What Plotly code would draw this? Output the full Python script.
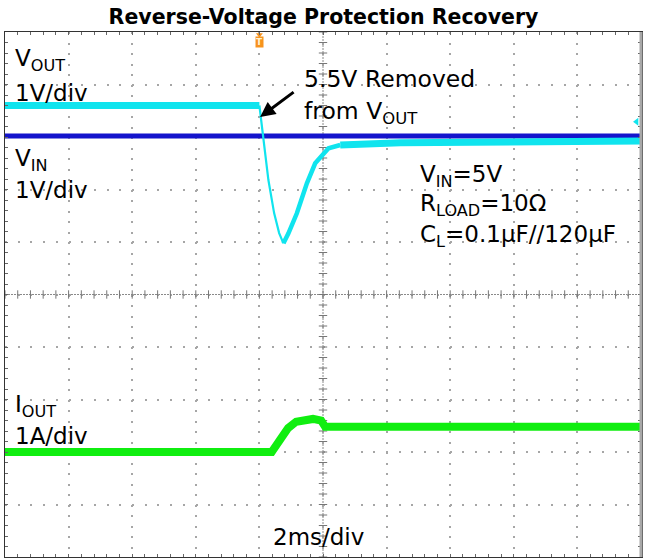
import numpy as np
import plotly.graph_objects as go

# ---- data (time in ms, trigger at 0 ms, 2 ms/div; vertical in screen divisions 0..10) ----
vin_t = [-8, 12]
vin_div = [8.02, 8.02]

vout_pre_t = [-8, 0]
vout_pre_div = [8.6, 8.6]
vout_fall_t = [0, 0.283, 0.463, 0.621, 0.756]
vout_fall_div = [8.6, 7.18, 6.55, 6.17, 5.975]
vout_rise_t = [0.756, 0.913, 1.178, 1.493, 1.754, 1.965, 2.173, 2.542]
vout_rise_div = [5.975, 6.166, 6.547, 7.118, 7.499, 7.657, 7.785, 7.848]
vout_post_t = [2.542, 3.383, 4.431, 12]
vout_post_div = [7.848, 7.88, 7.892, 7.924]

iout_t = [-8, 0.387, 0.645, 0.904, 1.156, 1.685, 1.943, 2.069, 12]
iout_div = [2.0, 2.0, 2.23, 2.457, 2.577, 2.63, 2.6, 2.48, 2.48]

CYAN = "#10E4EE"
BLUE = "#1414CC"
GREEN = "#10EE10"
FONT = "DejaVu Sans"

fig = go.Figure()

# crosshair center lines (x = 2 ms, y = 5 div) with minor ticks
minor_t = np.arange(-8, 12.001, 0.4)
minor_y = np.arange(0, 10.001, 0.2)
fig.add_shape(type="line", x0=-8, x1=12, y0=5, y1=5, line=dict(color="#8a8a8a", width=1, dash="2px,1px"), layer="below")
fig.add_shape(type="line", x0=2, x1=2, y0=0, y1=10, line=dict(color="#8a8a8a", width=1, dash="2px,1px"), layer="below")
fig.add_trace(go.Scatter(x=minor_t, y=[5] * len(minor_t), mode="markers", hoverinfo="skip",
                         marker=dict(symbol="line-ns", size=6, line=dict(color="#777", width=1))))
fig.add_trace(go.Scatter(x=[2] * len(minor_y), y=minor_y, mode="markers", hoverinfo="skip",
                         marker=dict(symbol="line-ew", size=6, line=dict(color="#777", width=1))))

# signals
fig.add_trace(go.Scatter(x=vin_t, y=vin_div, mode="lines", line=dict(color=BLUE, width=5), hoverinfo="skip"))
fig.add_trace(go.Scatter(x=vout_pre_t, y=vout_pre_div, mode="lines", line=dict(color=CYAN, width=7), hoverinfo="skip"))
fig.add_trace(go.Scatter(x=vout_fall_t, y=vout_fall_div, mode="lines", line=dict(color=CYAN, width=2.2), hoverinfo="skip"))
fig.add_trace(go.Scatter(x=vout_rise_t, y=vout_rise_div, mode="lines", line=dict(color=CYAN, width=4.5), hoverinfo="skip"))
fig.add_trace(go.Scatter(x=vout_post_t, y=vout_post_div, mode="lines", line=dict(color=CYAN, width=7), hoverinfo="skip"))
fig.add_trace(go.Scatter(x=iout_t, y=iout_div, mode="lines", line=dict(color=GREEN, width=8), hoverinfo="skip"))

# channel marker at right edge and trigger marker
fig.add_trace(go.Scatter(x=[11.86], y=[8.29], mode="markers", hoverinfo="skip",
                         marker=dict(symbol="triangle-left", size=7, color=CYAN)))
fig.add_trace(go.Scatter(x=[0], y=[9.95], mode="markers", hoverinfo="skip", cliponaxis=False,
                         marker=dict(symbol="triangle-down", size=6, color="#F7931E")))

ann = []
def label(text, x, y, size=23, anchor="left"):
    ann.append(dict(text=text, x=x, y=y, xref="x", yref="y", showarrow=False,
                    xanchor=anchor, yanchor="middle", font=dict(family=FONT, size=size, color="black")))

label("V<sub>OUT</sub>", -7.75, 9.46)
label("1V/div", -7.75, 8.84)
label("V<sub>IN</sub>", -7.75, 7.56)
label("1V/div", -7.75, 6.99)
label("5.5V Removed", 1.33, 9.10, size=23.5)
label("from V<sub>OUT</sub>", 1.33, 8.47, size=23.5)
label("V<sub>IN</sub>=5V", 5.0, 7.25)
label("R<sub>LOAD</sub>=10Ω", 5.0, 6.70)
label("C<sub>L</sub>=0.1µF//120µF", 5.0, 6.11)
label("I<sub>OUT</sub>", -7.75, 2.87)
label("1A/div", -7.75, 2.30)
label("2ms/div", 1.85, 0.38, anchor="center")

ann.append(dict(x=0.022, y=8.381, xref="x", yref="y", ax=35, ay=-26, showarrow=True,
                arrowhead=2, arrowsize=1, arrowwidth=3, arrowcolor="black", standoff=0, text=""))
ann.append(dict(text="<b>T</b>", x=0, y=1, xref="x", yref="paper", yanchor="top", yshift=-4, showarrow=False,
                font=dict(family=FONT, size=9, color="#FFF2D0"), bgcolor="#F7931E", borderpad=0))

axis_common = dict(showticklabels=False, showline=True, linecolor="#333", linewidth=1.5, mirror="allticks",
                   ticks="inside", ticklen=3, tickcolor="#666", zeroline=False, automargin=False,
                   showgrid=True, gridcolor="#a6a6a6", gridwidth=2)

fig.update_layout(
    width=647, height=558,
    margin=dict(l=5, r=6, t=32, b=1, autoexpand=False),
    paper_bgcolor="white", plot_bgcolor="white",
    showlegend=False,
    title=dict(text="Reverse-Voltage Protection Recovery", x=0.5, xanchor="center", y=0.969, yanchor="middle",
               font=dict(family=FONT, size=20.5, color="black", weight="bold")),
    annotations=ann,
    xaxis=dict(range=[-8, 12], dtick=2, tick0=0, griddash="2px,8.5px",
               minor=dict(dtick=0.4, ticks="inside", ticklen=3, tickcolor="#666", showgrid=False), **axis_common),
    yaxis=dict(range=[0, 10], dtick=1, tick0=0, griddash="2px,10.7px",
               minor=dict(dtick=0.2, ticks="inside", ticklen=3, tickcolor="#666", showgrid=False), **axis_common),
)
# gray right border bar
fig.add_shape(type="line", xref="paper", yref="paper", x0=1, x1=1, y0=0, y1=1,
              line=dict(color="#a8a8a8", width=3))

fig.write_html("out.html", config={"displayModeBar": False, "staticPlot": True},
               post_script="document.body.style.margin='0px';document.body.style.overflow='hidden';")
